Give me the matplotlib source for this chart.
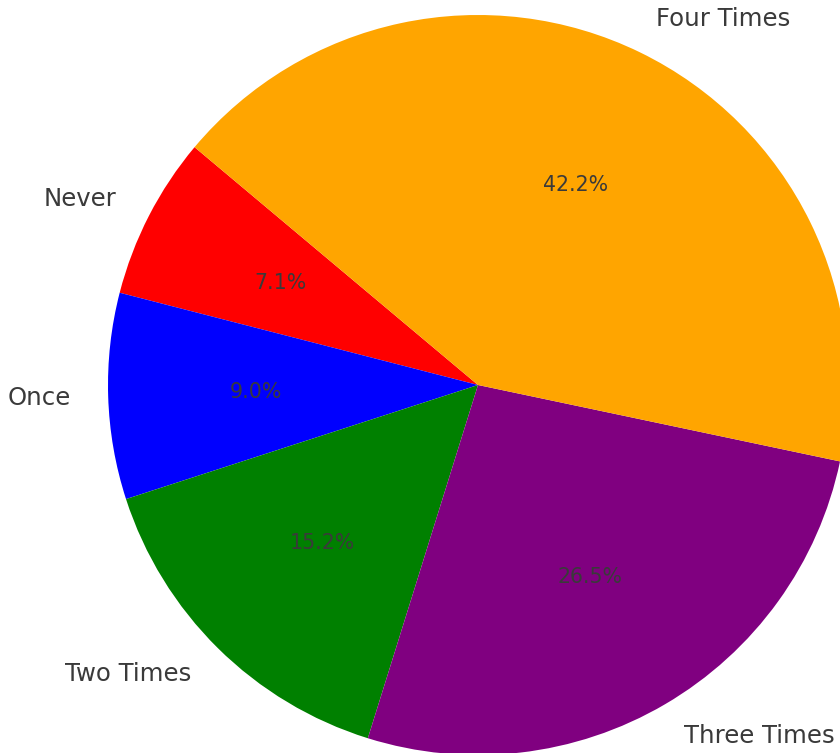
import matplotlib
matplotlib.use('Agg')
import matplotlib.pyplot as plt

# Data
categories = ['Never', 'Once', 'Two Times', 'Three Times', 'Four Times']
shares = [7.1, 9.0, 15.2, 26.5, 42.2]
colors = ['red', 'blue', 'green', 'purple', 'orange']

fig = plt.figure(figsize=(8.4, 7.53), dpi=100)

# axes box placed so the pie sits where it does in the reference (center ~ (478, 385) px, radius ~370 px)
W, H = 840, 753
cx, cy, r = 478, 385, 370
ax = fig.add_axes([(cx - r) / W, (H - cy - r) / H, 2 * r / W, 2 * r / H])

wedges, texts, autotexts = ax.pie(shares, labels=categories, colors=colors,
                                  autopct='%1.1f%%', startangle=140,
                                  labeldistance=1.1, pctdistance=0.6,
                                  textprops={'color': '#3a3a3a'})
for t in texts:
    t.set_fontsize(17.6)
for t in autotexts:
    t.set_fontsize(14.8)

ax.set_xlim(-1, 1)
ax.set_ylim(-1, 1)
ax.set_aspect('auto')
ax.axis('off')

fig.savefig('out.png', dpi=100)
